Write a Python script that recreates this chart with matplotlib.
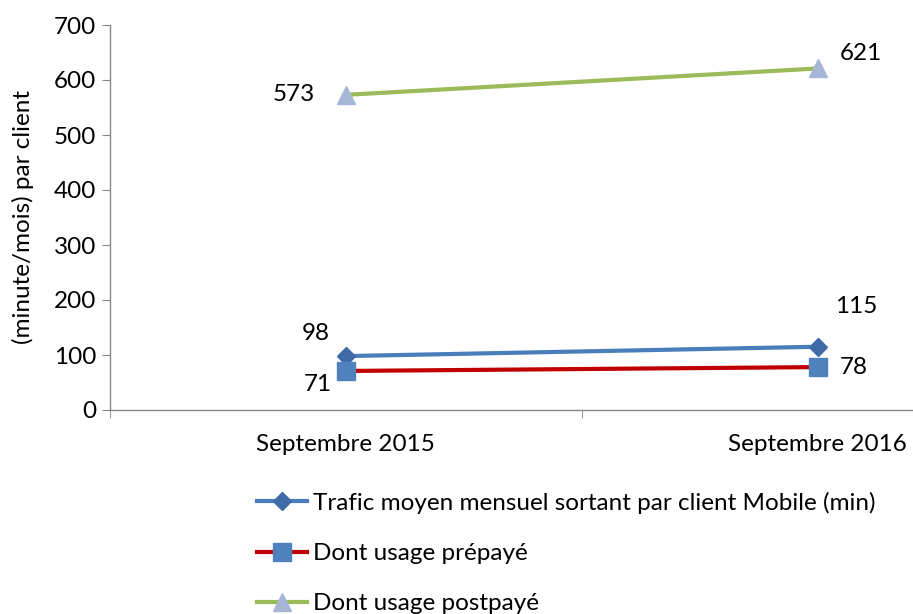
import matplotlib
matplotlib.use("Agg")
import matplotlib.pyplot as plt

# data
categories = ["Septembre 2015", "Septembre 2016"]
trafic = [98, 115]
prepaye = [71, 78]
postpaye = [573, 621]
labels = ["Trafic moyen mensuel sortant par client Mobile (min)",
          "Dont usage prépayé",
          "Dont usage postpayé"]

plt.rcParams['font.family'] = ['Lato', 'DejaVu Sans']

fig = plt.figure(figsize=(9.13, 6.14), dpi=100)
ax = fig.add_axes([110/913, (614-410)/614, (912-110)/913, (410-25)/614])

x = [0, 1]
l1, = ax.plot(x, trafic, color="#4A7EBB", lw=3.0, marker="D", ms=9,
              mfc="#3E6AA8", mec="#3E6AA8", label=labels[0])
l2, = ax.plot(x, prepaye, color="#C00000", lw=3.0, marker="s", ms=13,
              mfc="#4F81BD", mec="#4F81BD", label=labels[1])
l3, = ax.plot(x, postpaye, color="#9BBB59", lw=3.0, marker="^", ms=13,
              mfc="#A5B6D6", mec="#A5B6D6", label=labels[2])

# data labels
fs = 17.5
ax.annotate(str(postpaye[0]), (0, postpaye[0]), xytext=(-22, 0), textcoords="offset points",
            ha="right", va="center", fontsize=fs)
ax.annotate(str(postpaye[1]), (1, postpaye[1]), xytext=(16, 11), textcoords="offset points",
            ha="left", va="center", fontsize=fs)
ax.annotate(str(trafic[0]), (0, trafic[0]), xytext=(-22, 16), textcoords="offset points",
            ha="center", va="center", fontsize=fs)
ax.annotate(str(trafic[1]), (1, trafic[1]), xytext=(28, 29), textcoords="offset points",
            ha="center", va="center", fontsize=fs)
ax.annotate(str(prepaye[0]), (0, prepaye[0]), xytext=(-20, -10), textcoords="offset points",
            ha="center", va="center", fontsize=fs)
ax.annotate(str(prepaye[1]), (1, prepaye[1]), xytext=(16, 0), textcoords="offset points",
            ha="left", va="center", fontsize=fs)

ax.set_xlim(-0.5, 1.2)
ax.set_ylim(0, 700)
ax.set_yticks(range(0, 701, 100))
ax.set_xticks(x)
ax.set_xticklabels(categories)
ax.set_xticks([-0.5, 0.5], minor=True)
ax.tick_params(axis="x", which="major", length=0, pad=17, labelsize=fs)
ax.tick_params(axis="x", which="minor", length=6, color="#868686")
ax.tick_params(axis="y", length=6, color="#868686", labelsize=fs, pad=4)
for s in ["top", "right"]:
    ax.spines[s].set_visible(False)
for s in ["left", "bottom"]:
    ax.spines[s].set_color("#868686")
    ax.spines[s].set_linewidth(1)

ax.set_ylabel("(minute/mois) par client", fontsize=fs, labelpad=14)

fig.legend(handles=[l1, l2, l3], loc="upper left", bbox_to_anchor=(235/913, 1-470/614),
           frameon=False, fontsize=fs, handlelength=2.05, handletextpad=0.25,
           labelspacing=1.2, markerscale=1.0)

fig.savefig("out.png", dpi=100)
